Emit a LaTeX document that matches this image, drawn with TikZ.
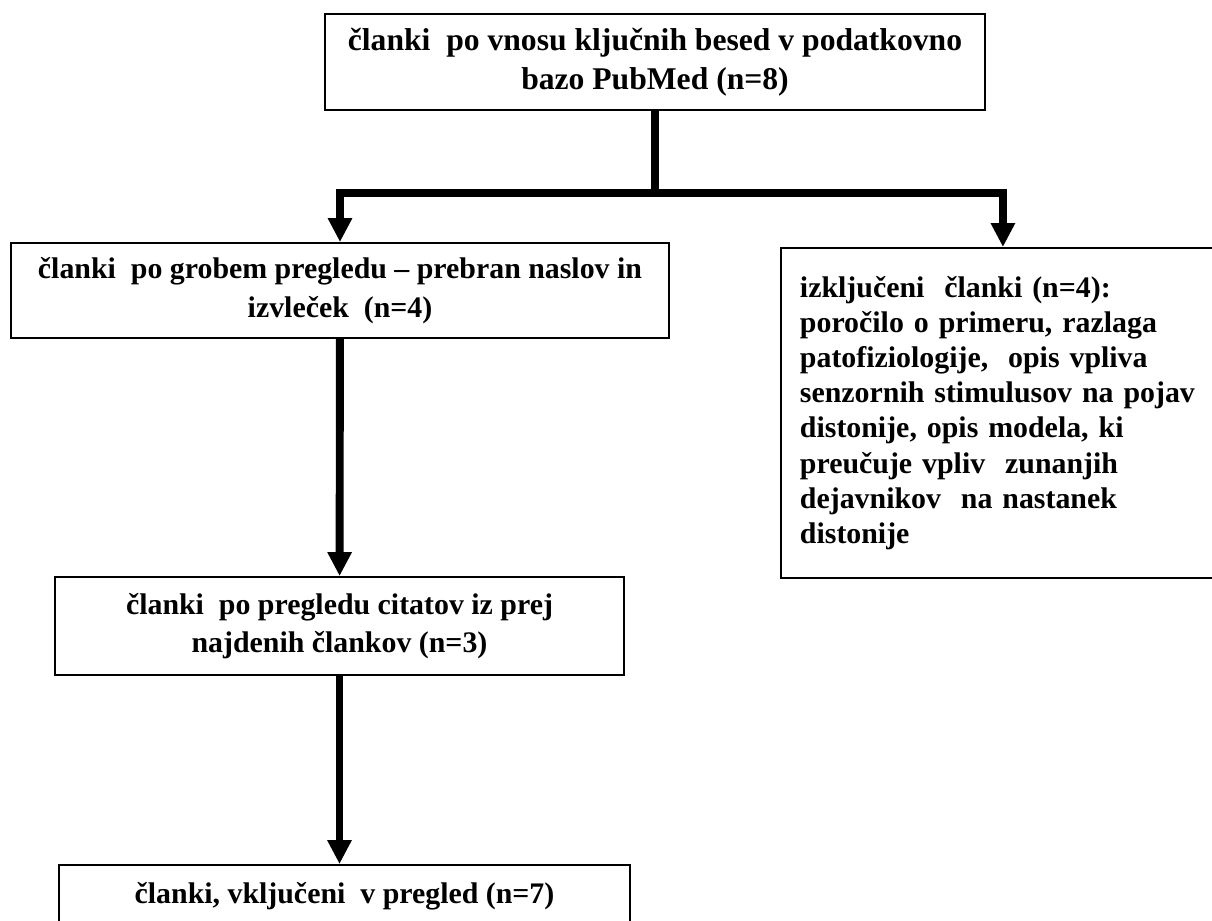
\documentclass[tikz,border=0pt]{standalone}
\usepackage{fontspec}
\setmainfont{Liberation Serif}
\usepackage{tikz}
\usetikzlibrary{arrows.meta}

\begin{document}
\begin{tikzpicture}[x=0.02cm,y=-0.02cm,
    box/.style={draw,line width=1.1pt,align=center,inner sep=0pt,
      font=\bfseries\fontsize{17}{22}\selectfont},
    conn/.style={line width=4.5pt,draw=black},
    arr/.style={conn,-{Triangle[width=0.46cm,length=0.48cm]}}]

    \useasboundingbox (0,0) rectangle (1212,920);

    \node[box,font=\bfseries\fontsize{18}{22}\selectfont,minimum width=13.2cm,minimum height=1.92cm] (PuMe) at (655,62) {članki\ \ po vnosu ključnih besed v podatkovno\\bazo PubMed (n=8)};

    \node[box,minimum width=13.16cm,minimum height=1.9cm] (GrPr) at (340,290.5) {članki\ \ po grobem pregledu -- prebran naslov in\\izvleček\ \ (n=4)};
    \node[box,align=left,anchor=north west,text width=8.12cm,inner xsep=0.38cm,minimum height=6.6cm,
      font=\bfseries\fontsize{17}{20}\selectfont] (IzCl) at (780,247) {izključeni\ \ članki (n=4):\\poročilo o primeru, razlaga\\patofiziologije,\ \ opis vpliva\\senzornih stimulusov na pojav\\distonije, opis modela, ki\\preučuje vpliv\ \ zunanjih\\dejavnikov\ \ na nastanek\\distonije};

    \node[box,minimum width=11.38cm,minimum height=1.96cm] (PrCi) at (339.5,626) {članki\ \ po pregledu citatov iz prej\\najdenih člankov (n=3)};
    \node[box,minimum width=11.42cm,minimum height=1.24cm] (VkPr) at (344.5,896) {članki, vključeni\ \ v pregled (n=7)};

    \coordinate (Sp) at (655,193);

    \draw[conn] (PuMe) to (Sp);
    \draw[arr] (Sp) -| (GrPr);
    \draw[arr] (Sp) -| (IzCl);

    \draw[arr] (GrPr) to (PrCi);
    \draw[arr] (PrCi.south) to (PrCi.south |- VkPr.north);

  \end{tikzpicture}
\end{document}
